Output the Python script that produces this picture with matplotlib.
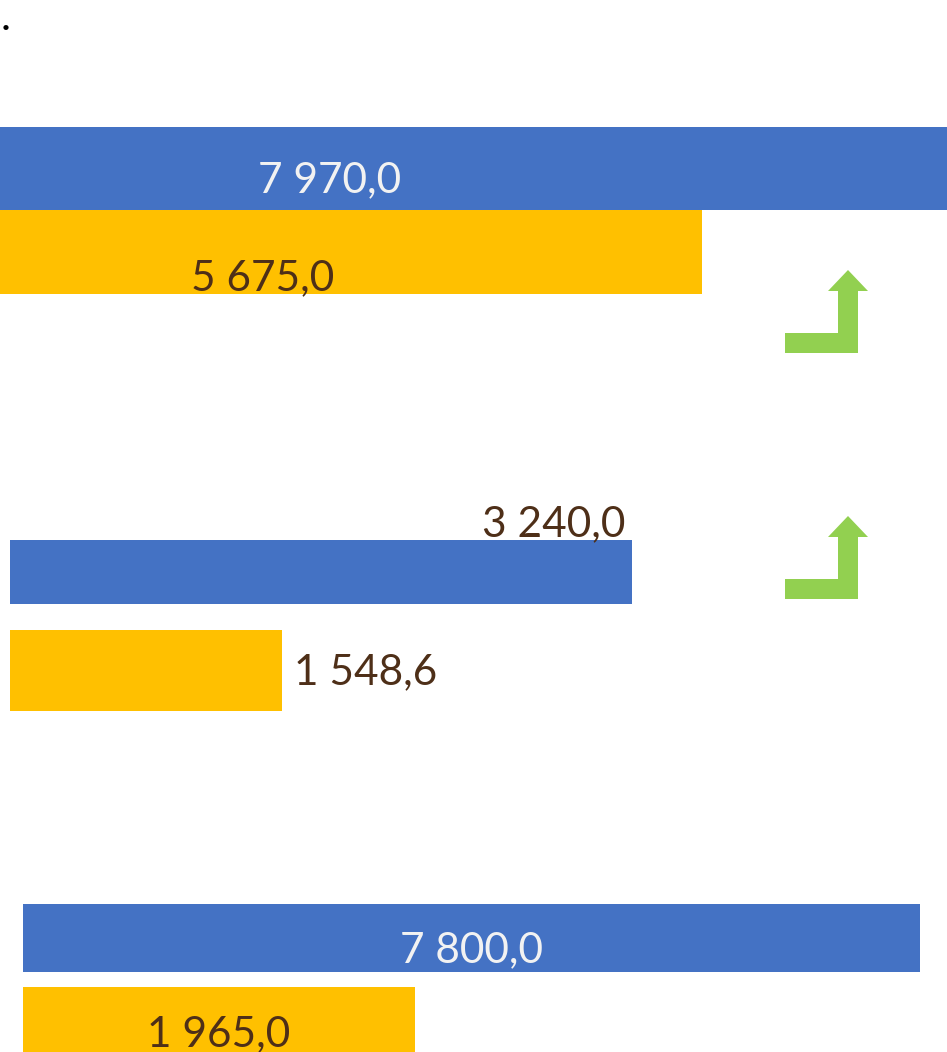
import matplotlib
matplotlib.use("Agg")
import matplotlib.pyplot as plt
from matplotlib.patches import Polygon

W, H = 947, 1052
plt.rcParams['font.family'] = ['Lato', 'DejaVu Sans']

blue = '#4472c4'
gold = '#ffc000'
green = '#92d050'
brown = '#4e2f18'
light = '#f2f2f2'

# three separate little bar charts, each with its own scale
labels_1 = ['7 970,0', '5 675,0']
values_1 = [7970.0, 5675.0]
labels_2 = ['3 240,0', '1 548,6']
values_2 = [3240.0, 1548.6]
labels_3 = ['7 800,0', '1 965,0']
values_3 = [7800.0, 1965.0]

fig = plt.figure(figsize=(W / 100, H / 100), dpi=100)


def make_ax(left_px, right_px, x0, x1):
    # x in data units, y in pixels from the top
    ax = fig.add_axes([left_px / W, 0, (right_px - left_px) / W, 1])
    ax.set_xlim(x0, x1)
    ax.set_ylim(H, 0)
    ax.axis('off')
    return ax


def bars(ax, base, values, centers, heights):
    ax.barh(centers, [v - base for v in values], left=base,
            height=heights, color=[blue, gold], linewidth=0)


fs = 30.5

# chart 1 (top), left part cut off by the slide
ax1 = make_ax(-176, W, 0, 1123 * 6.463)
bars(ax1, 0, values_1, [168.5, 252], [83, 84])
ax1.text(3270, 192, labels_1[0], color=light, fontsize=fs, ha='center', va='baseline')
ax1.text(values_1[1] / 2, 290, labels_1[1], color=brown, fontsize=fs, ha='center', va='baseline')

# chart 2
base2 = 234.0
ax2 = make_ax(10, W, base2, base2 + 937 * 4.833)
bars(ax2, base2, values_2, [572, 670.5], [64, 81])
ax2.text(values_2[0] - 7 * 4.833, 536, labels_2[0], color=brown, fontsize=fs, ha='right', va='baseline')
ax2.text(values_2[1] + 12 * 4.833, 684, labels_2[1], color=brown, fontsize=fs, ha='left', va='baseline')

# chart 3 (bottom)
base3 = -2564.0
ax3 = make_ax(23, W, base3, base3 + 924 * 11.554)
bars(ax3, base3, values_3, [938, 1027.5], [68, 81])
ax3.text((base3 + values_3[0]) / 2, 962, labels_3[0], color=light, fontsize=fs, ha='center', va='baseline')
ax3.text((base3 + values_3[1]) / 2, 1046, labels_3[1], color=brown, fontsize=fs, ha='center', va='baseline')

# overlay for the arrows and the stray dot
ov = fig.add_axes([0, 0, 1, 1])
ov.set_xlim(0, W)
ov.set_ylim(H, 0)
ov.axis('off')

arrow = [(785, 353), (858, 353), (858, 291), (868, 291), (848, 270),
         (828, 291), (838, 291), (838, 333), (785, 333)]
for dy in [0, 246]:
    ov.add_patch(Polygon([(x, y + dy) for x, y in arrow], closed=True,
                         facecolor=green, edgecolor='none'))

ov.text(6, 30, '.', fontsize=fs, color='black', ha='center', va='baseline')

fig.savefig('out.png', dpi=100)
